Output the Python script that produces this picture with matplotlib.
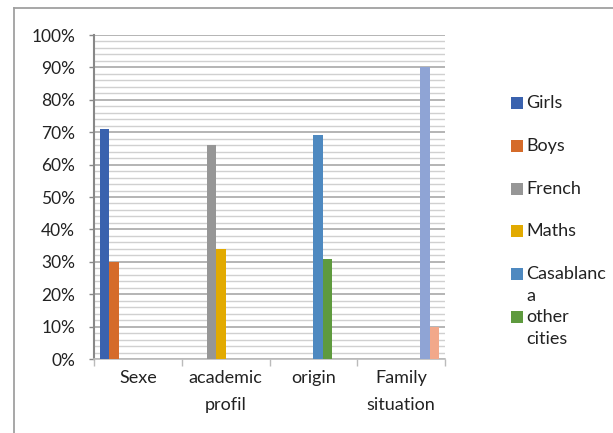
import matplotlib
matplotlib.use("Agg")
import matplotlib.pyplot as plt
import numpy as np
from matplotlib.patches import Rectangle
from matplotlib.lines import Line2D

# categories and series (each series only has a value in one category)
categories = ['Sexe', 'academic\nprofil', 'origin', 'Family\nsituation']
series_labels = ['Girls', 'Boys', 'French', 'Maths', 'Casablanc\na', 'other\ncities', '', '']
series_cats = [0, 0, 1, 1, 2, 2, 3, 3]
series_values = [71, 30, 66, 34, 69, 31, 90, 10]
series_colors = ['#3A62AE', '#D56B2A', '#969696', '#E2AA00', '#4E89C0', '#5E9A3E', '#8FA4D5', '#F2A88A']

plt.rcParams['font.family'] = ['Lato', 'DejaVu Sans']

W, H = 613, 433
fig = plt.figure(figsize=(W / 100, H / 100), dpi=100)
ax = fig.add_axes([94 / W, (H - 359) / H, 351 / W, 324 / H])

n = len(series_values)
w = 0.108
gap = 1 - n * w
for i in range(n):
    x = series_cats[i] - 0.5 + gap / 2 + (i + 0.5) * w
    ax.bar(x, series_values[i], width=w, color=series_colors[i], zorder=3)

ax.set_xlim(-0.5, len(categories) - 0.5)
ax.set_ylim(0, 100)

# y axis
ax.set_yticks(np.arange(0, 101, 10))
ax.set_yticklabels([f'{v}%' for v in range(0, 101, 10)], fontsize=12.5, color='#222222')
ax.set_yticks(np.arange(0, 101, 2), minor=True)
ax.grid(True, axis='y', which='minor', color='#d0d0d0', linewidth=1.0, zorder=0)
ax.grid(True, axis='y', which='major', color='#a8a8a8', linewidth=1.2, zorder=0)
ax.tick_params(axis='y', which='major', length=3.6, width=1, color='#888888', pad=10)
ax.tick_params(axis='y', which='minor', length=0)

# x axis: boundary ticks, labels at centers
ax.set_xticks(np.arange(-0.5, len(categories), 1.0))
ax.set_xticklabels([''] * (len(categories) + 1))
ax.set_xticks(np.arange(len(categories)), minor=True)
ax.set_xticklabels(categories, minor=True, fontsize=13, color='#222222', linespacing=1.85)
ax.tick_params(axis='x', which='major', length=5, width=1, color='#bbbbbb')
ax.tick_params(axis='x', which='minor', length=0, pad=8)

for side in ['top', 'right']:
    ax.spines[side].set_visible(False)
ax.spines['left'].set_color('#888888')
ax.spines['left'].set_linewidth(1.5)
ax.spines['bottom'].set_color('#bbbbbb')
ax.spines['bottom'].set_linewidth(1.2)

# legend (only first six entries are visible in the original)
def px(x, y):
    return x / W, (H - y) / H

for i in range(6):
    yc = 103 + i * 42.8
    x0, y0 = px(511, yc + 6)
    fig.add_artist(Rectangle((x0, y0), 12 / W, 12 / H, transform=fig.transFigure,
                             facecolor=series_colors[i], edgecolor='none'))
    tx, ty = px(526, yc - 8)
    fig.text(tx, ty, series_labels[i], fontsize=13, color='#222222',
             va='top', ha='left', linespacing=1.45)

# outer frame (left and top edges)
fig.add_artist(Line2D([14 / W, 14 / W], [0, (H - 8) / H], transform=fig.transFigure,
                      color='#a0a0a0', linewidth=1.3))
fig.add_artist(Line2D([14 / W, 1], [(H - 8) / H, (H - 8) / H], transform=fig.transFigure,
                      color='#a0a0a0', linewidth=1.3))

fig.savefig('out.png', dpi=100)
